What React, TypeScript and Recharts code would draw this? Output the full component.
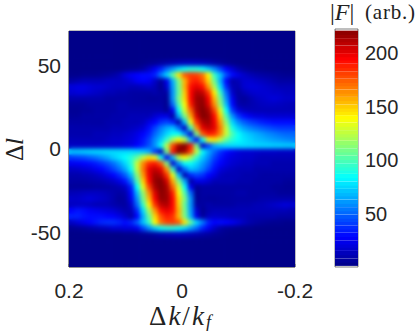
import React from "react";
import { ScatterChart, Scatter, XAxis, YAxis, ReferenceArea } from "recharts";

const kValues = [0.1947,0.1842,0.1737,0.1632,0.1526,0.1421,0.1316,0.1211,0.1105,0.1,0.0895,0.0789,0.0684,0.0579,0.0474,0.0368,0.0263,0.0158,0.0053,-0.0053,-0.0158,-0.0263,-0.0368,-0.0474,-0.0579,-0.0684,-0.0789,-0.0895,-0.1,-0.1105,-0.1211,-0.1316,-0.1421,-0.1526,-0.1632,-0.1737,-0.1842,-0.1947];
const lValues = [68.64,65.12,61.6,58.08,54.56,51.04,47.52,44,40.48,36.96,33.44,29.92,26.4,22.88,19.36,15.84,12.32,8.8,5.28,1.76,-1.76,-5.28,-8.8,-12.32,-15.84,-19.36,-22.88,-26.4,-29.92,-33.44,-36.96,-40.48,-44,-47.52,-51.04,-54.56,-58.08,-61.6,-65.12,-68.64];
const kTicks = [0.2, 0, -0.2];
const lTicks = [50, 0, -50];
const barTicks = [50, 100, 150, 200];
const barLevels = [3,6,10,13,17,20,23,27,30,34,37,41,44,47,51,54,58,61,65,68,71,75,78,82,85,89,92,95,99,102,106,109,113,116,120,123,126,130,133,137,140,144,147,150,154,157,161,164,168,171,174,178,181,185,188,192,195,198,202,205,209,212,216,219];

const F: number[][] = [
[2,2,2,2,2,2,2,2,2,2,2,2,2,2,2,2,2,2,2,2,2,2,2,2,2,2,2,2,2,2,2,2,2,2,2,2,2,2],
[2,2,2,2,2,2,2,2,2,2,2,2,2,2,2,2,2,2,2,2,2,2,2,2,2,2,2,2,2,2,2,2,2,2,2,2,2,2],
[2,2,2,2,2,2,2,2,2,2,2,2,2,2,2,2,2,2,2,2,2,2,2,2,2,2,2,2,2,2,2,2,2,2,2,2,2,2],
[2,2,2,2,2,2,2,2,2,2,2,2,2,2,2,2,2,2,2,2,2,2,2,2,2,2,2,2,2,2,2,2,2,2,2,2,2,2],
[2,2,2,2,2,2,2,2,2,2,2,2,2,2,2,2,2,2,2,2,2,2,2,2,2,2,2,2,2,2,2,2,2,2,2,2,2,2],
[2,2,2,2,2,2,2,2,2,2,2,2,3,4,5,7,9,11,13,14,15,14,13,11,8,6,4,3,2,2,2,2,2,2,2,2,2,2],
[2,2,2,2,2,2,2,2,2,3,4,5,8,15,25,35,50,62,75,85,90,90,85,72,58,42,28,18,10,6,4,3,3,2,2,2,2,2],
[3,3,4,4,4,5,6,8,12,20,25,28,30,30,35,55,75,105,145,175,182,180,170,140,95,70,45,30,22,16,12,10,8,7,6,5,4,4],
[8,10,12,12,12,12,14,15,14,16,20,26,28,26,16,6,23,66,110,155,184,189,177,148,106,66,28,9,12,18,18,16,14,12,10,8,8,8],
[20,22,22,20,18,18,16,14,14,14,12,12,14,16,12,4,18,62,108,156,192,200,192,162,120,76,36,12,10,18,20,20,18,16,14,12,12,12],
[18,20,20,18,16,14,12,12,10,10,8,8,8,8,10,7,8,60,105,150,195,212,208,184,142,95,51,17,7,12,16,18,18,18,16,16,14,14],
[10,10,10,10,10,10,8,8,8,8,8,7,7,6,6,7,5,60,110,147,194,216,218,196,154,108,59,24,8,6,10,14,16,18,20,18,16,16],
[6,6,6,8,8,8,8,8,10,10,8,8,8,8,8,8,4,50,100,138,189,215,220,202,164,115,69,29,10,8,10,12,14,15,15,14,13,12],
[5,5,6,6,8,8,8,8,10,10,10,10,10,10,10,10,5,25,85,130,173,213,222,213,180,133,84,40,20,14,12,12,12,12,12,12,12,12],
[6,6,8,8,8,8,8,10,10,10,12,12,12,12,18,22,22,8,65,110,158,204,222,218,193,149,100,60,40,30,24,20,20,18,18,18,18,18],
[8,8,8,8,8,8,10,10,10,12,12,12,14,22,28,38,42,35,10,70,135,185,212,216,198,161,113,75,58,48,42,38,34,32,30,30,30,30],
[10,10,10,10,10,10,10,12,12,12,14,16,20,30,42,55,65,70,50,15,95,162,200,208,200,168,125,88,72,62,56,52,48,45,42,40,40,40],
[10,10,10,10,12,12,12,14,14,16,18,22,28,35,50,62,75,85,85,60,18,110,175,190,186,165,127,100,85,75,70,66,62,58,55,52,50,50],
[12,12,12,12,12,12,14,16,16,18,20,24,32,42,58,72,95,120,140,125,70,25,85,135,145,125,105,92,84,78,74,70,68,65,62,60,58,56],
[15,15,15,15,15,16,16,17,18,20,22,28,35,45,60,85,125,180,215,222,190,110,15,42,65,72,75,76,76,76,75,75,74,74,73,73,72,72],
[72,72,73,74,75,75,76,76,76,76,76,74,72,65,40,15,110,190,222,215,180,125,85,65,50,38,30,24,20,18,18,17,16,16,16,15,15,15],
[40,42,44,48,52,58,64,72,78,84,92,105,125,145,135,85,25,70,125,140,120,95,72,58,42,32,24,20,18,16,16,14,12,12,12,12,12,12],
[25,26,28,30,33,38,44,52,62,75,92,127,165,186,190,175,110,18,60,85,85,75,62,50,35,28,22,18,16,14,14,12,12,12,10,10,10,10],
[15,16,18,20,24,28,34,42,52,64,85,125,168,200,208,200,162,95,15,50,70,65,55,42,30,20,16,14,12,12,12,10,10,10,10,10,10,10],
[10,10,11,12,14,17,22,28,36,48,68,113,161,198,216,212,185,135,70,10,35,42,38,28,22,14,12,12,12,10,10,10,8,8,8,8,8,8],
[8,8,8,9,10,11,13,16,22,32,52,100,149,193,218,222,204,158,110,65,8,22,22,18,12,12,12,12,10,10,10,8,8,8,8,8,6,6],
[6,6,6,6,7,7,8,9,11,16,34,84,133,180,213,222,213,173,130,85,25,5,8,8,8,8,8,8,8,8,8,8,8,8,6,6,5,5],
[12,13,14,15,15,14,12,10,8,10,29,69,115,164,202,220,215,189,138,100,50,4,8,8,8,8,8,8,10,10,8,8,8,8,8,6,6,6],
[16,16,18,20,18,16,14,10,6,8,24,59,108,154,196,218,216,194,147,110,60,5,7,6,6,7,7,8,8,8,8,8,10,10,10,10,10,10],
[14,15,15,14,12,12,12,10,8,7,17,51,95,142,184,208,212,195,150,105,60,8,7,10,8,8,8,8,10,10,10,12,12,14,16,18,20,18],
[28,32,30,26,24,22,20,18,14,10,12,36,76,120,162,192,200,192,156,108,62,18,4,10,12,12,12,12,12,12,12,12,12,12,12,12,12,10],
[35,35,32,30,30,30,28,26,22,16,9,28,66,106,148,177,189,184,155,110,66,23,6,14,16,15,14,12,12,12,10,10,10,10,10,8,8,8],
[15,20,24,28,32,36,38,38,35,30,35,48,70,95,140,170,180,182,175,145,105,75,55,35,28,30,28,25,20,14,10,8,6,5,4,4,3,3],
[4,5,6,8,10,12,14,18,18,20,20,24,42,58,72,85,90,90,85,75,62,50,35,25,15,8,5,4,3,3,3,2,2,2,2,2,2,2],
[2,2,2,2,2,2,2,2,2,3,3,4,5,6,8,11,13,14,15,14,13,11,9,7,5,4,3,2,2,2,2,2,2,2,2,2,2,2],
[2,2,2,2,2,2,2,2,2,2,2,2,2,2,2,2,2,2,2,2,2,2,2,2,2,2,2,2,2,2,2,2,2,2,2,2,2,2],
[2,2,2,2,2,2,2,2,2,2,2,2,2,2,2,2,2,2,2,2,2,2,2,2,2,2,2,2,2,2,2,2,2,2,2,2,2,2],
[2,2,2,2,2,2,2,2,2,2,2,2,2,2,2,2,2,2,2,2,2,2,2,2,2,2,2,2,2,2,2,2,2,2,2,2,2,2],
[2,2,2,2,2,2,2,2,2,2,2,2,2,2,2,2,2,2,2,2,2,2,2,2,2,2,2,2,2,2,2,2,2,2,2,2,2,2],
[2,2,2,2,2,2,2,2,2,2,2,2,2,2,2,2,2,2,2,2,2,2,2,2,2,2,2,2,2,2,2,2,2,2,2,2,2,2],
];

const cells = lValues.flatMap((l, r) => kValues.map((k, c) => ({ k, l, v: F[r][c] })));
const bar = barLevels.map((v) => ({ x: 0.5, v }));

function jet(value: number, max = 222.5) {
  const t = Math.max(0, Math.min(1, value / max));
  const ch = (a: number) => Math.round(255 * Math.max(0, Math.min(1, 1.5 - Math.abs(4 * t - a))));
  return `rgb(${ch(3)},${ch(2)},${ch(1)})`;
}

const HeatCell = (p: any) => (
  <rect x={p.cx - 3.3} y={p.cy - 3.3} width={6.6} height={6.6} fill={jet(p.payload?.v ?? p.v)} />
);
const BarCell = (p: any) => (
  <rect x={p.cx - 11.5} y={p.cy - 2.1} width={23} height={4.2} fill={jet(p.payload?.v ?? p.v)} />
);

const ink = "#262626";
const tickFont = { fontFamily: "'Liberation Sans'", fontSize: 21, fill: ink };
const xTickFont = { ...tickFont, dy: 2 };
const barFont = { fontFamily: "'Liberation Sans'", fontSize: 20, fill: ink };
const serif = "'Liberation Serif'";
const abs = (left: number, top: number, size: number): React.CSSProperties => ({
  position: "absolute", left, top, fontFamily: serif, fontSize: size, color: "#222", whiteSpace: "nowrap", lineHeight: 1,
});

export default function App() {
  return (
    <div style={{ position: "absolute", left: 0, top: 0, width: 416, height: 331, background: "#fff", overflow: "hidden" }}>
      <style>{`.softmap { filter: url(#soft); clip-path: url(#plotclip); }`}</style>
      <svg width={0} height={0} style={{ position: "absolute" }}>
        <defs>
          <filter id="soft" filterUnits="userSpaceOnUse" x={40} y={10} width={280} height={280} colorInterpolationFilters="sRGB">
            <feGaussianBlur stdDeviation={2} />
          </filter>
          <clipPath id="plotclip"><rect x={69} y={31} width={226} height={236} /></clipPath>
        </defs>
      </svg>
      <div style={{ position: "absolute", left: 0, top: 0 }}>
        <ScatterChart width={416} height={331} margin={{ top: 31, right: 121, bottom: 34, left: 9 }}>
          <XAxis type="number" dataKey="k" domain={[-0.2, 0.2]} reversed ticks={kTicks} height={30} interval={0}
            allowDataOverflow tick={xTickFont} tickSize={-3} tickMargin={17} stroke={ink} strokeWidth={0.6}
            tickFormatter={(v: number) => String(v)} />
          <YAxis type="number" dataKey="l" domain={[-70.4, 70.4]} ticks={lTicks} width={60} interval={0}
            allowDataOverflow tick={tickFont} tickSize={-3} tickMargin={11} stroke={ink} strokeWidth={0.6} />
          <Scatter data={cells} isAnimationActive={false} shape={HeatCell} />
          <Scatter data={cells} isAnimationActive={false} shape={HeatCell} className="softmap" />
          <ReferenceArea x1={0.2} x2={-0.2} y1={-70.4} y2={70.4} fill="none" stroke={ink} strokeWidth={0.6} fillOpacity={0} />
        </ScatterChart>
      </div>
      <div style={{ position: "absolute", left: 0, top: 0 }}>
        <ScatterChart width={416} height={331} margin={{ top: 29, right: 0, bottom: 64, left: 335 }}>
          <XAxis type="number" dataKey="x" domain={[0, 1]} hide />
          <YAxis type="number" dataKey="v" orientation="right" domain={[0, 222.5]} ticks={barTicks} width={58} interval={0}
            tick={barFont} axisLine={false} stroke={ink} strokeWidth={0.6} tickSize={-3} tickMargin={10} />
          <Scatter data={bar} isAnimationActive={false} shape={BarCell} />
          <ReferenceArea x1={0} x2={1} y1={0} y2={222.5} fill="none" fillOpacity={0} stroke={ink} strokeWidth={0.6} />
        </ScatterChart>
      </div>
      <div style={abs(330, 0, 24)}>|<i>F</i>|</div>
      <div style={{ ...abs(365, 2, 21), letterSpacing: 0.8 }}>(arb.)</div>
      <div style={{ ...abs(149, 303, 27), letterSpacing: 2 }}>Δ<i>k</i>/<i>k</i></div>
      <div style={abs(206, 313, 18)}><i>f</i></div>
      <div style={{ ...abs(0, 137, 25), transform: "rotate(-90deg)", transformOrigin: "center", left: -1, width: 30, textAlign: "center" }}>Δ<i>l</i></div>
    </div>
  );
}
